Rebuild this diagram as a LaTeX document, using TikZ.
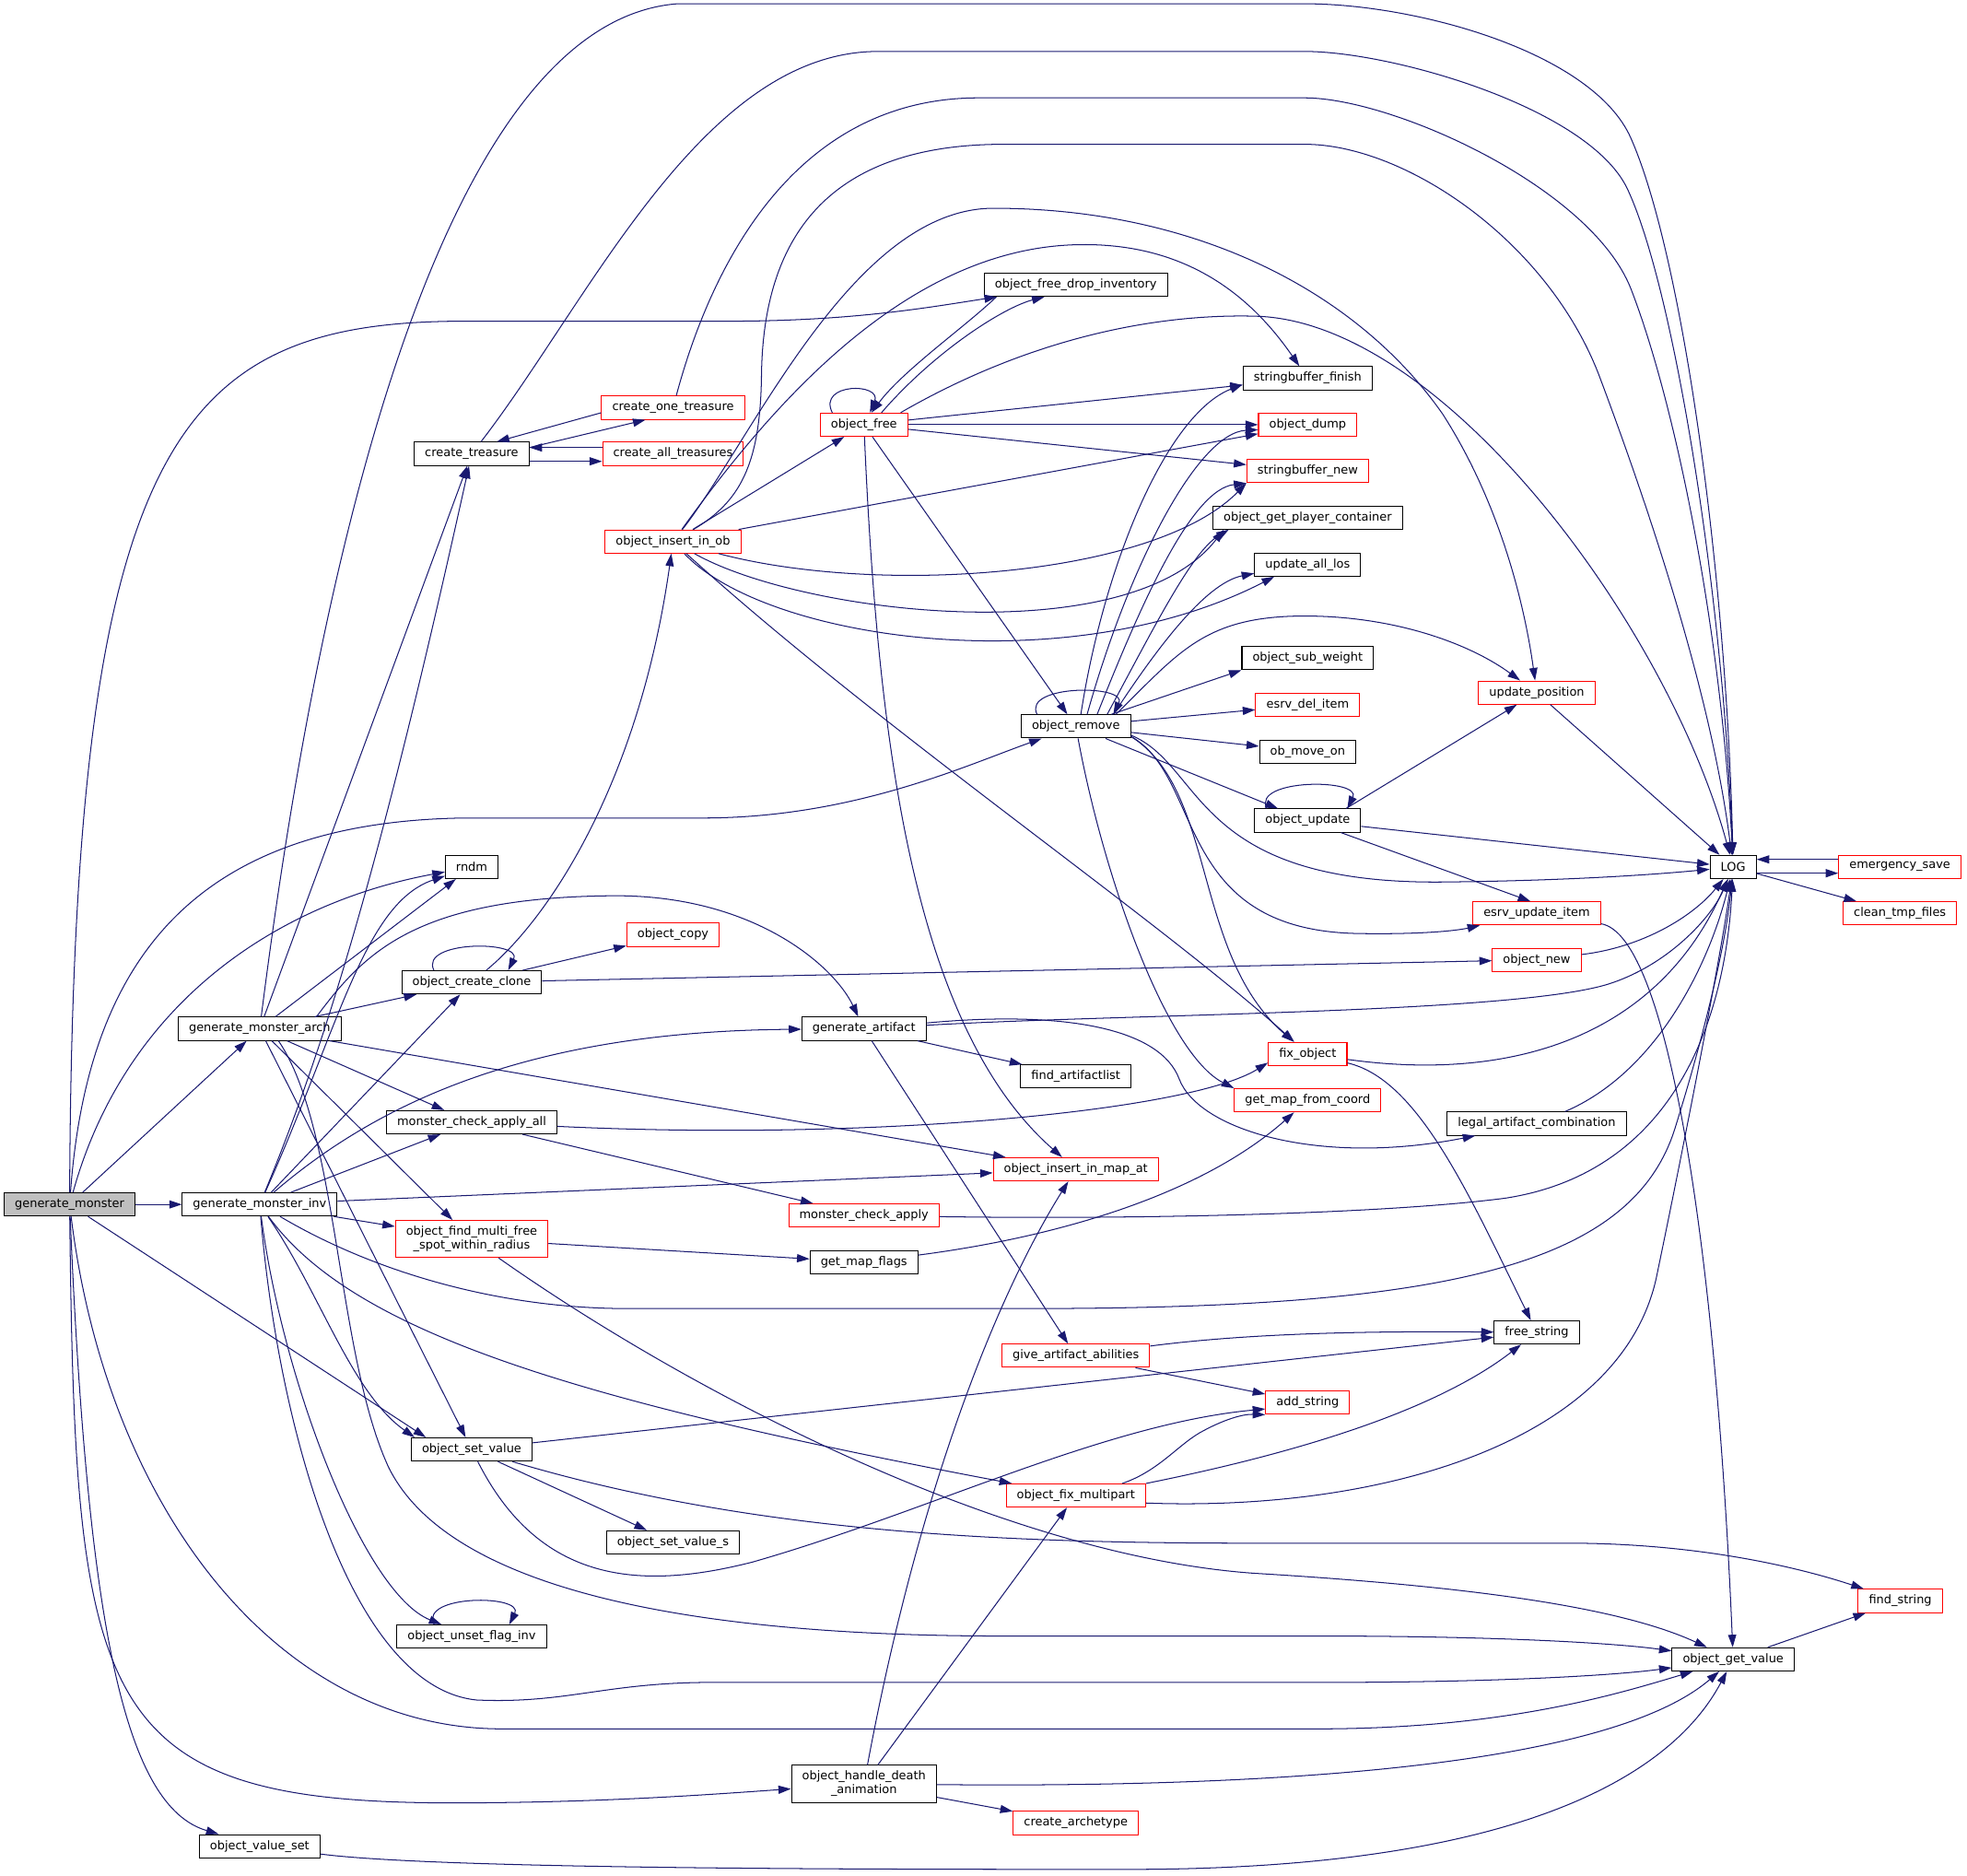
\documentclass[tikz,border=0pt]{standalone}
\usepackage{fontspec}
\setmainfont{DejaVu Sans}
\usetikzlibrary{arrows.meta}
\definecolor{call}{HTML}{191970}
\definecolor{rootgray}{HTML}{BFBFBF}

\begin{document}
\begin{tikzpicture}[x=1pt,y=-1pt,
    fn/.style={draw=black,fill=white,line width=0.75pt,minimum height=18.5pt,
      inner xsep=8.5pt,inner ysep=2pt,font=\fontsize{9.5}{11}\selectfont},
    rfn/.style={fn,draw=red},
    twoline/.style={align=center,minimum height=29.5pt},
    callto/.style={draw=call,line width=0.75pt,-{Triangle[length=10pt,width=6.5pt]}}]
  \useasboundingbox (0,0) rectangle (1568,1494.6);

  \path
  (55.5,960) node[fn,fill=rootgray] (gm) {generate\_monster}
  (207,820) node[fn] (gmarch) {generate\_monster\_arch}
  (207,960) node[fn] (gminv) {generate\_monster\_inv}
  (207,1471.5) node[fn] (ovset) {object\_value\_set}
  ;
  \path
  (376,361.7) node[fn] (ct) {create\_treasure}
  (376,691) node[fn] (rndm) {rndm}
  (376,783) node[fn] (occ) {object\_create\_clone}
  (376,894.5) node[fn] (mcaa) {monster\_check\_apply\_all}
  (376,987.5) node[rfn,twoline] (ofmf) {object\_find\_multi\_free\\\_spot\_within\_radius}
  (376,1155.3) node[fn] (osv) {object\_set\_value}
  (376,1304.4) node[fn] (oufi) {object\_unset\_flag\_inv}
  ;
  \path
  (536.5,325) node[rfn] (cot) {create\_one\_treasure}
  (536.5,361.7) node[rfn] (cat) {create\_all\_treasures}
  (536.5,431.6) node[rfn] (oiio) {object\_insert\_in\_ob}
  (536.5,745) node[rfn] (ocopy) {object\_copy}
  (536.5,1229.3) node[fn] (osvs) {object\_set\_value\_s}
  ;
  \path
  (688.7,338.5) node[rfn] (ofree) {object\_free}
  (688.7,820) node[fn] (genart) {generate\_artifact}
  (688.7,968.8) node[rfn] (mca) {monster\_check\_apply}
  (688.7,1006) node[fn] (gmf) {get\_map\_flags}
  (688.7,1421.8) node[fn,twoline] (ohda) {object\_handle\_death\\\_animation}
  ;
  \path
  (857.6,227) node[fn] (ofdi) {object\_free\_drop\_inventory}
  (857.6,579) node[fn] (orem) {object\_remove}
  (857.6,858) node[fn] (fal) {find\_artifactlist}
  (857.6,932) node[rfn] (oiima) {object\_insert\_in\_map\_at}
  (857.6,1080.6) node[rfn] (gaa) {give\_artifact\_abilities}
  (857.6,1192) node[rfn] (ofmp) {object\_fix\_multipart}
  (857.6,1453) node[rfn] (carch) {create\_archetype}
  ;
  \path
  (1042.4,301.5) node[fn] (sbf) {stringbuffer\_finish}
  (1042.4,338.5) node[rfn] (odump) {object\_dump}
  (1042.4,375.5) node[rfn] (sbn) {stringbuffer\_new}
  (1042.4,412.5) node[fn] (ogpc) {object\_get\_player\_container}
  (1042.4,450) node[fn] (ual) {update\_all\_los}
  (1042.4,524.5) node[fn] (osw) {object\_sub\_weight}
  (1042.4,561.8) node[rfn] (edi) {esrv\_del\_item}
  (1042.4,599) node[fn] (omo) {ob\_move\_on}
  (1042.4,654) node[fn] (oupd) {object\_update}
  (1042.4,840) node[rfn] (fixo) {fix\_object}
  (1042.4,877) node[rfn] (gmfc) {get\_map\_from\_coord}
  (1042.4,1118) node[rfn] (astr) {add\_string}
  ;
  \path
  (1225,552) node[rfn] (upos) {update\_position}
  (1225,728) node[rfn] (eui) {esrv\_update\_item}
  (1225,765) node[rfn] (onew) {object\_new}
  (1225,895.6) node[fn] (lac) {legal\_artifact\_combination}
  (1225,1062) node[fn] (frees) {free\_string}
  ;
  \path
  (1381.6,691) node[fn] (log) {LOG}
  (1381.6,1322.6) node[fn] (ogv) {object\_get\_value}
  (1514.5,691) node[rfn] (esave) {emergency\_save}
  (1514.5,728) node[rfn] (ctf) {clean\_tmp\_files}
  (1514.8,1276) node[rfn] (finds) {find\_string}
  ;

  \draw[callto] (gm) -- (gminv);
  \draw[callto] (gm) -- (gmarch);
  \draw[callto] (gm) .. controls (100,800) and (220,720) .. (rndm);
  \draw[callto] (gm) .. controls (70,760) and (160,655) .. (370,652) -- (560,652) .. controls (680,652) and (770,610) .. (orem);
  \draw[callto] (gm) .. controls (58,350) and (140,256) .. (371,256) -- (580,256) .. controls (680,256) and (740,245) .. (ofdi);
  \draw[callto] (gm) -- ([xshift=12pt]osv.north west);
  \draw[callto] (gm) .. controls (85,1200) and (220,1378) .. (400,1378) -- (1050,1378) .. controls (1200,1378) and (1290,1350) .. (ogv);
  \draw[callto] (gm) .. controls (60,1360) and (75,1437) .. (360,1437) .. controls (480,1437) and (570,1430) .. (ohda);
  \draw[callto] (gm) .. controls (70,1300) and (100,1440) .. (ovset);

  \draw[callto] (gmarch) .. controls (235,600) and (320,20) .. (540,3) -- (1040,3) .. controls (1130,3) and (1270,42) .. (1300,110) .. controls (1340,200) and (1376,450) .. (log);
  \draw[callto] (gmarch) -- (ct);
  \draw[callto] (gmarch) -- (rndm);
  \draw[callto] (gmarch) -- (occ);
  \draw[callto] ([xshift=-20pt]gmarch.north east) .. controls (290,760) and (330,716) .. (485,714) .. controls (600,712) and (665,770) .. (genart);
  \draw[callto] (gmarch) -- (mcaa);
  \draw[callto] (gmarch) -- (oiima);
  \draw[callto] (gmarch) -- (ofmf);
  \draw[callto] (gmarch) -- (osv);
  \draw[callto] ([xshift=15pt]gmarch.south) .. controls (270,900) and (268,1080) .. (310,1170) .. controls (360,1270) and (560,1304) .. (800,1304) -- (1050,1304) .. controls (1200,1304) and (1290,1310) .. (ogv);

  \draw[callto] (gminv) .. controls (300,1015) and (400,1043) .. (500,1043) -- (820,1043) .. controls (1150,1043) and (1300,1010) .. (1335,900) .. controls (1360,820) and (1376,750) .. (log);
  \draw[callto] (gminv) .. controls (265,820) and (310,660) .. (ct);
  \draw[callto] (gminv) .. controls (270,820) and (290,720) .. (rndm);
  \draw[callto] (gminv) -- (occ);
  \draw[callto] (gminv) .. controls (300,880) and (420,822) .. (genart);
  \draw[callto] (gminv) -- (mcaa);
  \draw[callto] (gminv) -- (oiima);
  \draw[callto] (gminv) -- (ofmf);
  \draw[callto] (gminv) .. controls (255,1030) and (280,1110) .. ([xshift=3pt]osv.north west);
  \draw[callto] (gminv) .. controls (225,1100) and (290,1270) .. (oufi);
  \draw[callto] (gminv) .. controls (280,1060) and (450,1115) .. (ofmp);
  \draw[callto] (gminv) .. controls (222,1140) and (280,1345) .. (380,1355) .. controls (450,1358) and (480,1342) .. (560,1341) -- (1050,1341) .. controls (1200,1341) and (1290,1335) .. (ogv);

  \draw[callto] ([yshift=5pt]ct.east) -- ([xshift=-22pt]cot.south);
  \draw[callto] ([yshift=-4pt]cot.west) -- ([xshift=20pt]ct.north);
  \draw[callto] ([yshift=-6pt]ct.east) -- ([yshift=-6pt]cat.west);
  \draw[callto] ([yshift=5pt]cat.west) -- ([yshift=5pt]ct.east);
  \draw[callto] (ct) .. controls (470,240) and (560,41) .. (700,41) -- (1040,41) .. controls (1110,41) and (1266,86) .. (1297,150) .. controls (1335,230) and (1374,480) .. (log);
  \draw[callto] (cot) .. controls (570,200) and (640,78) .. (780,78) -- (1040,78) .. controls (1110,78) and (1268,149) .. (1300,230) .. controls (1335,320) and (1372,500) .. (log);

  \draw[callto] (oiio) .. controls (590,400) and (606,370) .. (607,300) .. controls (608,200) and (650,115) .. (800,115) -- (1040,115) .. controls (1120,115) and (1234,192) .. (1275,300) .. controls (1320,420) and (1365,560) .. (log);
  \draw[callto] (oiio) .. controls (600,350) and (680,166) .. (792,166) .. controls (950,166) and (1080,230) .. (1150,330) .. controls (1195,400) and (1215,480) .. (upos);
  \draw[callto] (oiio) .. controls (610,330) and (720,196) .. (862,195) .. controls (950,194) and (1000,240) .. (sbf);
  \draw[callto] (oiio) -- (ofree);
  \draw[callto] (oiio) -- (odump);
  \draw[callto] (oiio) .. controls (700,475) and (920,460) .. (sbn.south west);
  \draw[callto] (oiio) .. controls (640,490) and (900,520) .. ([xshift=9pt]ogpc.south west);
  \draw[callto] (oiio) .. controls (610,510) and (850,545) .. ([xshift=16pt]ual.south west);
  \draw[callto] (oiio) .. controls (700,580) and (920,730) .. (fixo);

  \draw[callto] ([xshift=10pt]ofree.north west) .. controls +(-12,-24) and +(10,-24) .. ([xshift=40pt]ofree.north west);
  \draw[callto] ([xshift=14pt]ofree.north) .. controls (745,280) and (800,245) .. ([xshift=-25pt]ofdi.south);
  \draw[callto] ([xshift=10pt]ofdi.south west) .. controls (770,260) and (720,295) .. ([xshift=6pt]ofree.north);
  \draw[callto] (ofree) -- (sbf);
  \draw[callto] (ofree) -- (odump);
  \draw[callto] (ofree) -- (sbn);
  \draw[callto] (ofree) -- (orem);
  \draw[callto] (ofree) .. controls (700,600) and (730,820) .. (oiima);
  \draw[callto] ([xshift=-6pt]ofree.north east) .. controls (820,270) and (920,250) .. (1000,252) .. controls (1150,255) and (1330,500) .. (log);

  \draw[callto] ([xshift=13pt]orem.north west) .. controls +(-12,-24) and +(12,-24) .. ([xshift=-14pt]orem.north east);
  \draw[callto] ([xshift=4pt]orem.north) .. controls (880,450) and (930,330) .. ([yshift=-5pt]sbf.west);
  \draw[callto] ([xshift=9pt]orem.north) .. controls (900,450) and (955,345) .. ([yshift=-4pt]odump.west);
  \draw[callto] ([xshift=17pt]orem.north) .. controls (910,480) and (950,390) .. (sbn.south west);
  \draw[callto] ([xshift=25pt]orem.north) .. controls (920,500) and (950,440) .. ([xshift=13pt]ogpc.south west);
  \draw[callto] ([xshift=30pt]orem.north) .. controls (920,520) and (960,465) .. ([yshift=-7pt]ual.west);
  \draw[callto] ([xshift=-12pt]orem.north east) .. controls (940,520) and (960,491) .. (1040,491) .. controls (1110,491) and (1170,512) .. (upos);
  \draw[callto] (orem) -- (osw.south west);
  \draw[callto] (orem) -- (edi);
  \draw[callto] (orem) -- (omo);
  \draw[callto] (orem) -- (oupd);
  \draw[callto] ([yshift=-7pt]orem.east) .. controls (960,610) and (950,705) .. (1150,703) .. controls (1250,702) and (1320,697) .. (log);
  \draw[callto] ([yshift=-8pt]orem.east) .. controls (960,620) and (935,740) .. (1080,744) .. controls (1130,745) and (1160,742) .. ([xshift=6pt]eui.south west);
  \draw[callto] ([yshift=-8pt]orem.east) .. controls (970,630) and (950,760) .. (fixo);
  \draw[callto] (orem) .. controls (880,700) and (930,840) .. (gmfc.north west);

  \draw[callto] ([xshift=10pt]oupd.north west) .. controls +(-12,-24) and +(12,-24) .. ([xshift=-11pt]oupd.north east);
  \draw[callto] ([xshift=-12pt]oupd.north east) -- (upos);
  \draw[callto] (oupd) -- (log);
  \draw[callto] (oupd) -- ([xshift=-5pt]eui.north);
  \draw[callto] (upos) -- (log);
  \draw[callto] (eui) .. controls (1330,745) and (1368,1000) .. (ogv);
  \draw[callto] (onew) .. controls (1310,755) and (1350,730) .. (log);
  \draw[callto] (fixo) .. controls (1200,862) and (1320,830) .. (log);
  \draw[callto] (fixo) .. controls (1130,860) and (1170,950) .. (frees);
  \draw[callto] (lac) .. controls (1320,855) and (1362,770) .. (log);

  \draw[callto] ([xshift=26pt]occ.north west) .. controls +(-12,-24) and +(12,-24) .. ([xshift=-27pt]occ.north east);
  \draw[callto] (occ) .. controls (440,730) and (510,620) .. (oiio);
  \draw[callto] (occ) -- (ocopy);
  \draw[callto] (occ) -- (onew);

  \draw[callto] (mcaa) .. controls (700,910) and (950,885) .. ([yshift=-7pt]fixo.west);
  \draw[callto] (mcaa) -- (mca);
  \draw[callto] (mca) .. controls (900,972) and (1100,968) .. (1200,955) .. controls (1330,935) and (1375,820) .. (log);

  \draw[callto] (genart) .. controls (900,808) and (1200,808) .. (1280,785) .. controls (1330,770) and (1365,730) .. (log);
  \draw[callto] (genart) .. controls (850,805) and (925,820) .. (940,860) .. controls (955,900) and (1050,930) .. (lac);
  \draw[callto] (genart) -- (fal);
  \draw[callto] (genart) -- (gaa);
  \draw[callto] (gaa) .. controls (1000,1062) and (1100,1061) .. (frees);
  \draw[callto] (gaa) -- (astr);

  \draw[callto] (ofmf) -- (gmf);
  \draw[callto] (ofmf) .. controls (550,1110) and (800,1240) .. (1000,1254) .. controls (1200,1266) and (1300,1285) .. (ogv);
  \draw[callto] (gmf) .. controls (850,985) and (960,950) .. (gmfc);

  \draw[callto] (osv) -- (frees);
  \draw[callto] (osv) .. controls (600,1222) and (800,1230) .. (1000,1230) -- (1250,1230) .. controls (1350,1230) and (1430,1248) .. (finds);
  \draw[callto] (osv) -- (osvs);
  \draw[callto] (osv) .. controls (430,1262) and (510,1268) .. (600,1245) .. controls (740,1205) and (880,1135) .. ([yshift=-5pt]astr.west);

  \draw[callto] ([xshift=30pt]oufi.north west) .. controls +(-12,-24) and +(12,-24) .. ([xshift=-30pt]oufi.north east);

  \draw[callto] ([xshift=37pt]ofmp.north) .. controls (925,1172) and (940,1150) .. (960,1140) .. controls (975,1132) and (990,1127) .. (astr.south west);
  \draw[callto] (ofmp.north east) .. controls (1050,1155) and (1150,1120) .. (frees);
  \draw[callto] ([yshift=-6pt]ofmp.east) .. controls (1100,1205) and (1290,1150) .. (1320,1020) .. controls (1345,900) and (1372,760) .. (log);

  \draw[callto] (ohda) .. controls (730,1200) and (790,1040) .. (oiima);
  \draw[callto] (ohda) -- (ofmp);
  \draw[callto] (ohda) .. controls (1000,1425) and (1280,1410) .. (ogv);
  \draw[callto] (ohda) -- (carch);
  \draw[callto] (ovset) .. controls (350,1490) and (700,1490) .. (900,1490) .. controls (1200,1490) and (1330,1420) .. (ogv);
  \draw[callto] (ogv) -- (finds);

  \draw[callto] ([yshift=-5pt]log.east) -- ([yshift=-5pt]esave.west);
  \draw[callto] ([yshift=6pt]esave.west) -- ([yshift=6pt]log.east);
  \draw[callto] (log) -- (ctf);
\end{tikzpicture}
\end{document}
